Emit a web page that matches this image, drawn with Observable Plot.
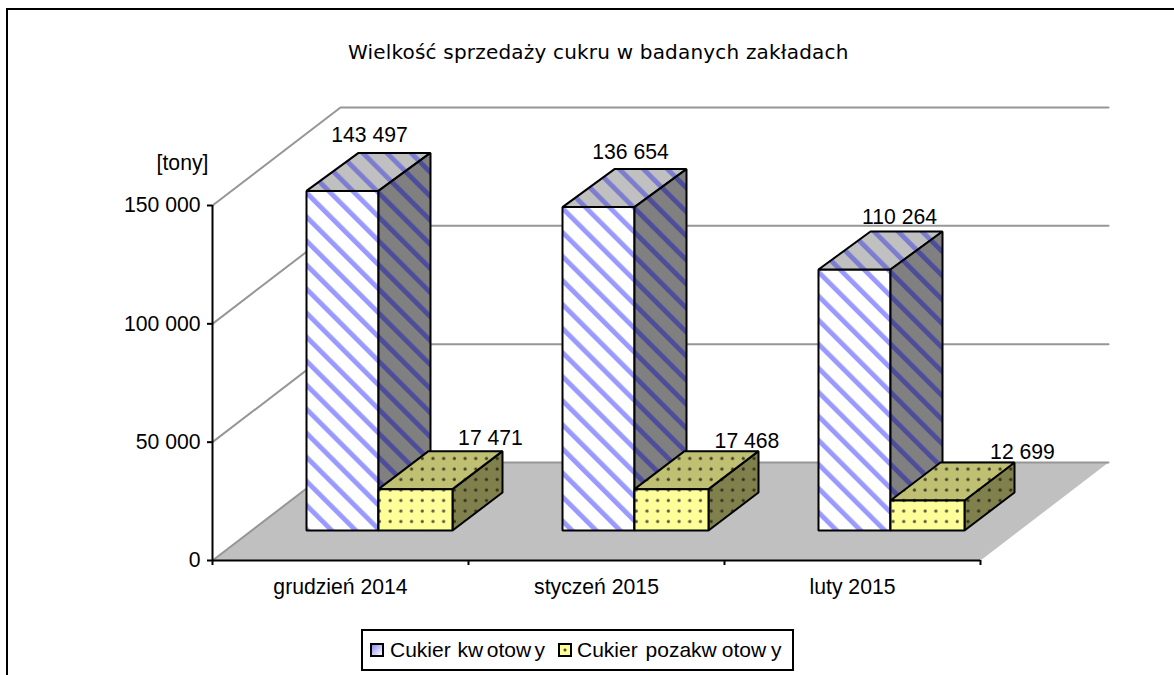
<!DOCTYPE html>
<html lang="pl">
<head>
<meta charset="utf-8">
<script src="https://cdn.jsdelivr.net/npm/d3@7"></script>
<script src="https://cdn.jsdelivr.net/npm/@observablehq/plot@0.6"></script>
<style>
html,body{margin:0;padding:0;background:#fff;overflow:hidden;}
#frame{margin:8px 0 0 6px;border-top:2px solid #000;border-left:2px solid #000;box-sizing:border-box;height:667px;}
#title{height:80px;box-sizing:border-box;padding:27px 0 0 340px;font:20px/30px "DejaVu Sans",sans-serif;color:#000;letter-spacing:.19px;white-space:nowrap;}
#chart svg{display:block;}
#legend{position:relative;margin:4px 0 0 353px;width:433px;height:42px;box-sizing:border-box;border:2px solid #000;font:21px/38px "Liberation Sans",Arial,sans-serif;color:#000;white-space:nowrap;}
#legend .sw{position:absolute;top:12px;width:10px;height:10px;border:2px solid #000;}
#legend .lb{position:absolute;top:0;}
#legend .a{margin-right:3.5px;}
#legend .b{margin-right:5px;}
</style>
</head>
<body>
<svg width="0" height="0" style="position:absolute">
  <defs>
    <pattern id="hFront" patternUnits="userSpaceOnUse" width="17" height="17" patternTransform="rotate(-45)"><rect width="17" height="17" fill="#fff"/><rect width="4.8" height="17" fill="#9999ff"/></pattern>
    <pattern id="hTop" patternUnits="userSpaceOnUse" width="17" height="17" patternTransform="rotate(-45)"><rect width="17" height="17" fill="#c0c0c0"/><rect width="4.8" height="17" fill="#7d7dd0"/></pattern>
    <pattern id="hSide" patternUnits="userSpaceOnUse" width="17" height="17" patternTransform="rotate(-45)"><rect width="17" height="17" fill="#808080"/><rect width="4.8" height="17" fill="#4d4d99"/></pattern>
    <pattern id="dFront" patternUnits="userSpaceOnUse" x="2" y="-4.5" width="10.7" height="10.5"><rect width="10.7" height="10.5" fill="#ffff99"/><circle cx="5.2" cy="5" r="1.6" fill="#5a5a48"/></pattern>
    <pattern id="dTop" patternUnits="userSpaceOnUse" x="2" y="-4.5" width="10.7" height="10.5"><rect width="10.7" height="10.5" fill="#c0c073"/><circle cx="5.2" cy="5" r="1.6" fill="#44442c"/></pattern>
    <pattern id="dSide" patternUnits="userSpaceOnUse" x="2" y="-4.5" width="10.7" height="10.5"><rect width="10.7" height="10.5" fill="#80804d"/><circle cx="5.2" cy="5" r="1.6" fill="#33331f"/></pattern>
  </defs>
</svg>
<div id="frame">
  <div id="title">Wielkość sprzedaży cukru w badanych zakładach</div>
  <div id="chart"></div>
  <div id="legend">
    <span class="sw" style="left:7px;background:linear-gradient(135deg,#8f8fef,#fff)"></span>
    <span class="lb" style="left:27px;word-spacing:1px">Cukier k<span class="a">w</span>oto<span class="a">w</span>y</span>
    <span class="sw" style="left:195px;background:radial-gradient(circle,#55553f 0 1px,#ffff99 2px)"></span>
    <span class="lb" style="left:214px;word-spacing:2px">Cukier pozak<span class="b">w</span>oto<span class="b">w</span>y</span>
  </div>
</div>
<script>
const months = ["grudzień 2014", "styczeń 2015", "luty 2015"];
const kwotowy = [143497, 136654, 110264];
const pozakwotowy = [17471, 17468, 12699];
const yTicks = [0, 50000, 100000, 150000];
const yLabel = "[tony]";

const unitsPerPx = 150000 / 355, catPerPx = 1 / 256;
const wallDx = 128 * catPerPx, wallDy = 98 * unitsPerPx;
const bigDx = 52 * catPerPx, smallDx = 50 * catPerPx, boxDy = 38 * unitsPerPx;
const lift = 30 * unitsPerPx, start = 94 * catPerPx;
const bigW = 72 * catPerPx, smallW = 74 * catPerPx;
const fontSize = 21.2;
const fmt = v => d3.format(",")(v).replace(/,/g, " ");

function faces(i, x0, w, v, dx) {
  const x = i + x0, x1 = x + w, b = lift, t = lift + v;
  return {
    front: [[x, b], [x1, b], [x1, t], [x, t]],
    top: [[x, t], [x1, t], [x1 + dx, t + boxDy], [x + dx, t + boxDy]],
    side: [[x1, b], [x1, t], [x1 + dx, t + boxDy], [x1 + dx, b + boxDy]]
  };
}
const poly = (f, fill, stroke = "#000") => Plot.line(f, {x: d => d[0], y: d => d[1], curve: "linear-closed", fill, stroke, strokeWidth: 2, strokeLinejoin: "miter"});
const boxMarks = months.flatMap((m, i) => {
  const a = faces(i, start, bigW, kwotowy[i], bigDx);
  const b = faces(i, start + bigW, smallW, pozakwotowy[i], smallDx);
  return [poly(a.front, "url(#hFront)"), poly(a.top, "url(#hTop)"), poly(a.side, "url(#hSide)"),
          poly(b.side, "url(#dSide)"), poly(b.top, "url(#dTop)"), poly(b.front, "url(#dFront)")];
});
const n = months.length;
const floor = [[0, 0], [n, 0], [n + wallDx, wallDy], [wallDx, wallDy]];
const grid = yTicks.map(v => [[0, v], [wallDx, v + wallDy], [n + wallDx, v + wallDy]]);

/* offsets of the value labels from the rear top corner of their box, px */
const bigNudge = [[-25, -18], [-20, -17], [-7, -14]];
const smallNudge = [[-12, -13], [-11.5, -10], [8, -10]];
const labels = months.flatMap((m, i) => [
  {x: i + start + bigDx + bigW / 2, y: lift + kwotowy[i] + boxDy, t: fmt(kwotowy[i]), n: bigNudge[i]},
  {x: i + start + bigW + smallW + smallDx, y: lift + pozakwotowy[i] + boxDy, t: fmt(pozakwotowy[i]), n: smallNudge[i]}
]);

const plot = Plot.plot({
  width: 1166, height: 535,
  marginLeft: 204, marginRight: 194, marginTop: 115, marginBottom: 65,
  x: {domain: [0, n]},
  y: {domain: [0, 150000]},
  style: {fontFamily: '"Liberation Sans", Arial, sans-serif', fontSize: "21px", color: "#000", background: "transparent", overflow: "visible"},
  marks: [
    poly(floor, "#c0c0c0", "none"),
    ...grid.map(g => Plot.line(g, {x: d => d[0], y: d => d[1], stroke: "#969696", strokeWidth: 2})),
    Plot.ruleX([0], {y1: 0, y2: 150000, stroke: "#000", strokeWidth: 2}),
    Plot.ruleY([0], {x1: 0, x2: n, stroke: "#000", strokeWidth: 2}),
    Plot.axisY({ticks: yTicks, tickFormat: fmt, tickSize: 5, tickPadding: 7, strokeWidth: 2, label: null, fontSize}),
    Plot.axisX({ticks: d3.range(n + 1), tickFormat: () => "", tickSize: 5, strokeWidth: 2, label: null}),
    Plot.axisX({ticks: months.map((m, i) => i + 0.5), tickFormat: d => months[d - 0.5], tickSize: 0, tickPadding: 18, label: null, fontSize}),
    ...boxMarks,
    Plot.text([yLabel], {x: () => 0, y: () => 150000, dx: -30, dy: -42, text: d => d, fontSize}),
    ...labels.map(l => Plot.text([l], {x: "x", y: "y", text: "t", dx: l.n[0], dy: l.n[1], fontSize}))
  ]
});
document.getElementById("chart").append(plot);
</script>
</body>
</html>
